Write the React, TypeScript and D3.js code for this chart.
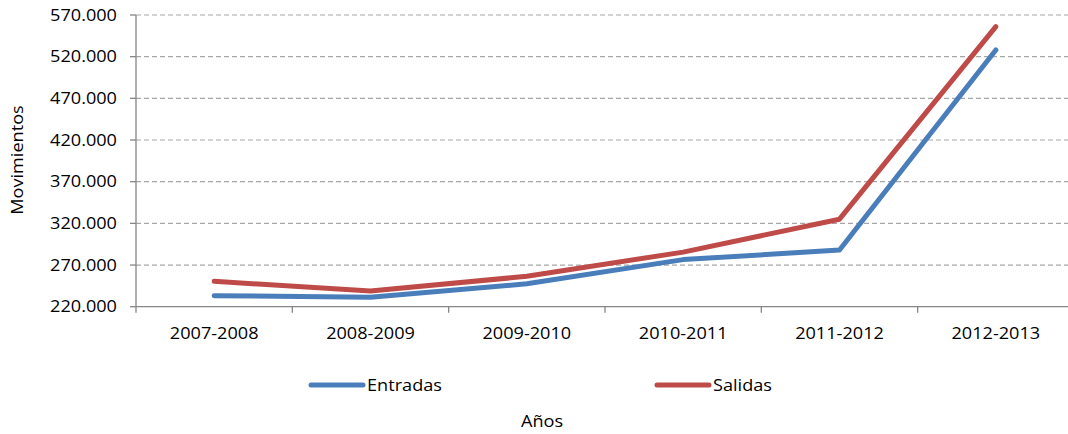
import React from "react";
import * as d3 from "d3";

const categories = ["2007-2008", "2008-2009", "2009-2010", "2010-2011", "2011-2012", "2012-2013"];
const entradas = [233200, 231300, 247500, 276500, 288000, 528000];
const salidas = [250400, 238800, 256500, 285500, 325000, 556000];
const yTicks = [220000, 270000, 320000, 370000, 420000, 470000, 520000, 570000];
const seriesNames = ["Entradas", "Salidas"];
const seriesColors = ["#4A7EBB", "#BE4B48"];

const W = 1068;
const H = 434;
const FONT = "'Open Sans', sans-serif";
const SX = 1.17;

export default function App() {
  const left = 136;
  const right = 1074;
  const top = 15;
  const bottom = 306.7;

  const x = d3.scaleBand<string>().domain(categories).range([left, right]).padding(0);
  const y = d3.scaleLinear().domain([220000, 570000]).range([bottom, top]);
  const fmt = (v: number) => d3.format(",")(v).replace(/,/g, ".");

  const line = d3
    .line<number>()
    .x((_, i) => (x(categories[i]) as number) + x.bandwidth() / 2)
    .y((d) => y(d));

  const series = [entradas, salidas];
  const boundaries = categories.map((c) => x(c) as number).concat([right]);

  const legendX = [311, 657];

  const txt = (tx: number, ty: number, s: string, anchor: string, key?: string | number, extra?: string) => (
    <text
      key={key}
      transform={`translate(${tx},${ty}) ${extra || ""} scale(${SX},1)`}
      textAnchor={anchor}
      fontFamily={FONT}
      fontSize={15.5}
      fill="#000"
    >
      {s}
    </text>
  );

  return (
    <svg
      width={W}
      height={H}
      style={{ position: "absolute", left: 0, top: 0, background: "#fff" }}
    >
      <rect x={0} y={0} width={W} height={H} fill="#fff" />
      {/* gridlines */}
      {yTicks.slice(1).map((t) => (
        <line
          key={"g" + t}
          x1={left}
          x2={right}
          y1={y(t)}
          y2={y(t)}
          stroke="#A6A6A6"
          strokeWidth={1.2}
          strokeDasharray="5,3"
        />
      ))}
      {/* y axis */}
      <line x1={left} x2={left} y1={top} y2={bottom} stroke="#868686" strokeWidth={1.3} />
      {yTicks.map((t) => (
        <g key={"yt" + t}>
          <line x1={left - 6} x2={left} y1={y(t)} y2={y(t)} stroke="#868686" strokeWidth={1.3} />
          {txt(117, y(t) + 5.5, fmt(t), "end")}
        </g>
      ))}
      {/* x axis */}
      <line x1={left} x2={right} y1={bottom} y2={bottom} stroke="#868686" strokeWidth={1.3} />
      {boundaries.map((b, i) => (
        <line key={"xt" + i} x1={b} x2={b} y1={bottom} y2={bottom + 6} stroke="#868686" strokeWidth={1.3} />
      ))}
      {categories.map((c, i) => txt((x(c) as number) + x.bandwidth() / 2, 339, c, "middle", "xl" + i))}
      {/* series */}
      {series.map((s, i) => (
        <path
          key={"s" + i}
          d={line(s) || ""}
          fill="none"
          stroke={seriesColors[i]}
          strokeWidth={5}
          strokeLinejoin="round"
          strokeLinecap="round"
        />
      ))}
      {/* legend */}
      {seriesNames.map((n, i) => (
        <g key={"lg" + i}>
          <line
            x1={legendX[i]}
            x2={legendX[i] + 52}
            y1={385}
            y2={385}
            stroke={seriesColors[i]}
            strokeWidth={5}
            strokeLinecap="round"
          />
          {txt(legendX[i] + 56, 390.5, n, "start")}
        </g>
      ))}
      {/* axis titles */}
      {txt(542, 427, "Años", "middle")}
      {txt(23, 160, "Movimientos", "middle", "yt", "rotate(-90)")}
    </svg>
  );
}
